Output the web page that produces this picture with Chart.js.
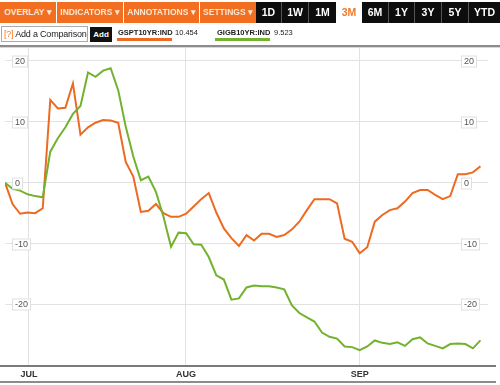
<!DOCTYPE html>
<html>
<head>
<meta charset="utf-8">
<script src="https://cdn.jsdelivr.net/npm/chart.js@4"></script>
<style>
  html, body { margin:0; padding:0; background:#fff; }
  body { width:500px; height:385px; position:relative; overflow:hidden; font-family:"Liberation Sans", Arial, sans-serif; }
  #wrap { position:absolute; left:0; top:0; width:500px; height:385px; }
  .btn { position:absolute; top:2px; height:21px; line-height:21px; text-align:center; font-weight:bold; box-sizing:border-box; white-space:nowrap; }
  .org { background:#f26f21; color:#fde6d3; font-size:8.5px; }
  .blk { background:#0d0d0d; color:#fff; font-size:10.5px; border-left:1px solid #555; }
  .sel { background:#fff; color:#f27a2a; font-size:10.5px; }
  .hl { position:absolute; left:0; width:500px; }
  .lbl { position:absolute; font-size:7.5px; color:#222; white-space:nowrap; }
</style>
</head>
<body>
<div id="wrap"><canvas id="c" width="500" height="385"></canvas></div>

<!-- toolbar -->
<div class="btn org" style="left:0;width:56px">OVERLAY ▾</div>
<div class="btn org" style="left:57px;width:66px">INDICATORS ▾</div>
<div class="btn org" style="left:124px;width:75px">ANNOTATIONS ▾</div>
<div class="btn org" style="left:200px;width:56px">SETTINGS ▾</div>
<div class="btn blk" style="left:256px;width:25px;border-left:none">1D</div>
<div class="btn blk" style="left:281px;width:27px">1W</div>
<div class="btn blk" style="left:308px;width:28px">1M</div>
<div class="btn sel" style="left:336px;width:26px">3M</div>
<div class="btn blk" style="left:362px;width:26px;border-left:none">6M</div>
<div class="btn blk" style="left:388px;width:26px">1Y</div>
<div class="btn blk" style="left:414px;width:27px">3Y</div>
<div class="btn blk" style="left:441px;width:27px">5Y</div>
<div class="btn blk" style="left:468px;width:32px">YTD</div>

<!-- comparison row -->
<div style="position:absolute;left:1px;top:26px;width:87px;height:16px;border:1px solid #aaa;box-sizing:border-box;font-size:9px;line-height:14px;color:#222;white-space:nowrap;padding-left:2px;letter-spacing:-0.2px;overflow:hidden">
  <span style="color:#f27a2a">[?]</span> Add a Comparison</div>
<div style="position:absolute;left:90px;top:27px;width:22px;height:15px;background:#111;color:#fff;font-weight:bold;font-size:8px;line-height:15px;text-align:center">Add</div>
<div class="lbl" style="left:118px;top:28px;font-weight:bold">GSPT10YR:IND</div>
<div class="lbl" style="left:175px;top:28px">10.454</div>
<div style="position:absolute;left:117px;top:38px;width:55px;height:3px;background:#ec6a22"></div>
<div class="lbl" style="left:217px;top:28px;font-weight:bold">GIGB10YR:IND</div>
<div class="lbl" style="left:274px;top:28px">9.523</div>
<div style="position:absolute;left:215px;top:38px;width:55px;height:3px;background:#72b22e"></div>

<!-- frame lines -->
<div class="hl" style="top:45px;height:2px;background:#8c8c8c"></div>
<div class="hl" style="top:47px;height:1px;background:#d8d8d8"></div>
<div class="hl" style="top:365px;height:2px;background:#7a7a7a;width:496px"></div>
<div class="hl" style="top:381px;height:2px;background:#8c8c8c;width:496px"></div>

<script>
// trading-day index for each point (one point per day)
const days = Array.from({ length: 64 }, (_, i) => i);

// GSPT10YR:IND, % change
const gspt = [
  0, -3.5, -5.1, -4.9, -5.0, -4.2, 13.6, 12.2, 12.3, 16.3,
  7.9, 9.1, 9.85, 10.3, 10.2, 9.85, 3.4, 1.0, -4.8, -4.6,
  -3.5, -5.0, -5.6, -5.6, -5.1, -3.9, -2.7, -1.7, -4.9, -7.5,
  -9.1, -10.4, -8.6, -9.5, -8.4, -8.4, -8.9, -8.6, -7.7, -6.4,
  -4.5, -2.7, -2.7, -2.7, -3.4, -9.2, -9.7, -11.6, -10.6, -6.4,
  -5.3, -4.5, -4.2, -3.1, -1.7, -1.2, -1.2, -2.0, -2.7, -2.2,
  1.4, 1.4, 1.7, 2.7
];

// GIGB10YR:IND, % change
const gigb = [
  0, -1.0, -1.3, -1.9, -2.2, -2.4, 5.1, 7.3, 9.1, 11.3,
  12.6, 18.1, 17.4, 18.4, 18.8, 15.2, 9.2, 4.3, 0.4, 1.0,
  -1.5, -5.6, -10.5, -8.2, -8.3, -10.1, -10.2, -12.2, -15.2, -15.9,
  -19.2, -19.0, -17.2, -16.9, -17.0, -17.0, -17.2, -17.5, -20.1, -21.4,
  -22.1, -22.8, -24.6, -25.3, -25.6, -26.9, -27.0, -27.5, -26.9, -25.9,
  -26.3, -26.5, -26.2, -26.8, -25.7, -25.4, -26.4, -26.8, -27.2, -26.5,
  -26.4, -26.5, -27.2, -25.9
];

// month boundaries on the day axis
const monthTicks = [3.18, 23.97, 47.0];
const monthLabels = ['JUL', 'AUG', 'SEP'];

const yTicks = [-20, -10, 0, 10, 20];

/* y labels in little boxes, both sides */
const boxLabels = {
  id: 'boxLabels',
  afterDatasetsDraw(chart) {
    const { ctx, scales: { y } } = chart;
    ctx.save();
    ctx.font = '9px "Liberation Sans", Arial, sans-serif';
    ctx.textBaseline = 'middle';
    ctx.textAlign = 'left';
    yTicks.forEach(v => {
      const py = Math.round(y.getPixelForValue(v)) + 0.5;
      const t = String(v);
      const w = ctx.measureText(t).width;
      [15, 464].forEach(lx => {
        ctx.fillStyle = '#fff';
        ctx.fillRect(lx - 2.5, py - 5.5, w + 5, 11);
        ctx.strokeStyle = '#e0e0e0';
        ctx.lineWidth = 1;
        ctx.strokeRect(lx - 2.5, py - 5.5, w + 5, 11);
        ctx.fillStyle = '#555';
        ctx.fillText(t, lx, py);
      });
    });
    ctx.restore();
  }
};

new Chart(document.getElementById('c'), {
  type: 'line',
  data: {
    labels: days,
    datasets: [
      { label: 'GIGB10YR:IND', data: days.map((d, i) => ({ x: d, y: gigb[i] })),
        borderColor: '#72b22e', borderWidth: 2, pointRadius: 0, tension: 0 },
      { label: 'GSPT10YR:IND', data: days.map((d, i) => ({ x: d, y: gspt[i] })),
        borderColor: '#ec6a22', borderWidth: 2, pointRadius: 0, tension: 0 }
    ]
  },
  options: {
    responsive: false,
    animation: false,
    layout: { padding: { left: 5, right: 12, top: 46, bottom: 0 } },
    plugins: { legend: { display: false }, tooltip: { enabled: false } },
    scales: {
      x: {
        type: 'linear', min: 0, max: 64,
        afterBuildTicks: s => { s.ticks = monthTicks.map(v => ({ value: v })); },
        afterFit: s => { s.height = 19; },
        grid: { color: '#e2e2e2', drawTicks: false },
        border: { display: false },
        ticks: {
          padding: 3,
          color: '#333',
          font: { family: '"Liberation Sans", Arial, sans-serif', size: 9, weight: 'bold' },
          callback: (v, i) => monthLabels[i]
        }
      },
      y: {
        min: -30.1, max: 22.45,
        afterBuildTicks: s => { s.ticks = yTicks.map(v => ({ value: v })); },
        afterFit: s => { s.width = 0; },
        grid: { color: '#e2e2e2', drawTicks: false },
        border: { display: false },
        ticks: { display: false }
      }
    }
  },
  plugins: [boxLabels]
});
</script>
</body>
</html>
